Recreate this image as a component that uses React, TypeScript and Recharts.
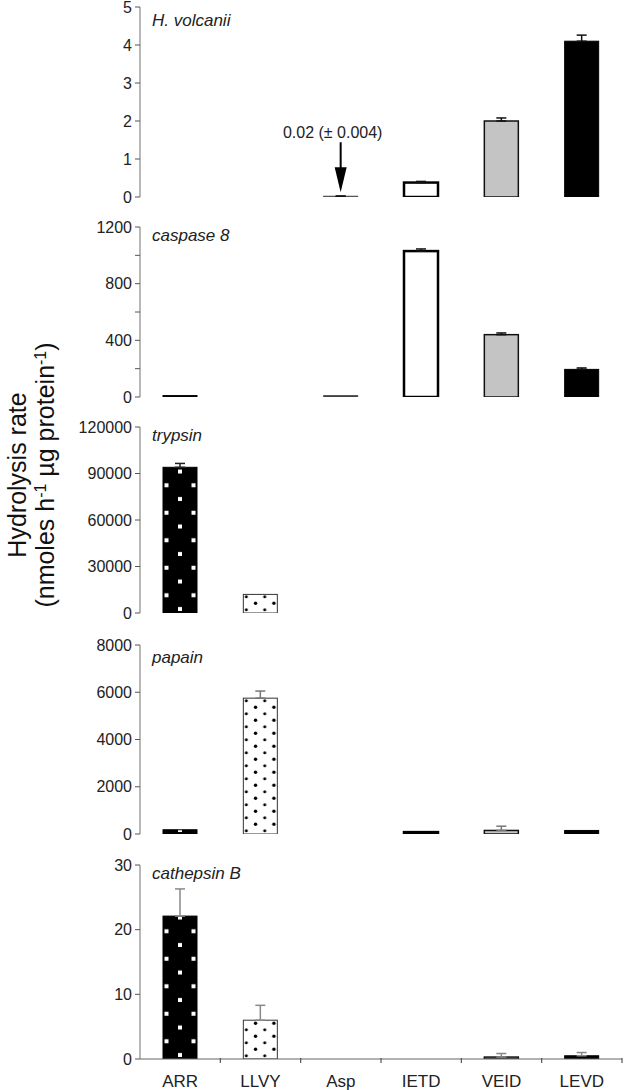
import React from "react";
import { BarChart, Bar, XAxis, YAxis, ErrorBar, LabelList } from "recharts";

const substrates = ["ARR", "LLVY", "Asp", "IETD", "VEID", "LEVD"];

const volcaniiRate = [0, 0, 0.02, 0.38, 2.0, 4.1];
const volcaniiErr = [0, 0, 0.004, 0.03, 0.08, 0.16];
const volcaniiNote = ["", "", "0.02 (± 0.004)", "", "", ""];
const volcaniiTicks = [0, 1, 2, 3, 4, 5];

const caspaseRate = [10, 0, 10, 1030, 440, 195];
const caspaseErr = [0, 0, 0, 15, 12, 10];
const caspaseTicks = [0, 200, 400, 600, 800, 1000, 1200];

const trypsinRate = [94000, 12000, 0, 0, 0, 0];
const trypsinErr = [2500, 0, 0, 0, 0, 0];
const trypsinTicks = [0, 30000, 60000, 90000, 120000];

const papainRate = [180, 5750, 0, 80, 150, 150];
const papainErr = [0, 300, 0, 0, 180, 0];
const papainTicks = [0, 2000, 4000, 6000, 8000];

const cathepsinRate = [22.1, 6.0, 0, 0, 0.3, 0.5];
const cathepsinErr = [4.2, 2.3, 0, 0, 0.55, 0.5];
const cathepsinTicks = [0, 10, 20, 30];

const FONT = "'Liberation Sans', Arial, Helvetica, sans-serif";
const AXIS_LEFT = 140;
const AXIS_RIGHT = 622;
const CAT_MARGIN = 14;

// fill per substrate, same in every panel
const barStyles = [
  { fill: "#000", pattern: "squares", stroke: "#000", strokeWidth: 1 },
  { fill: "#fff", pattern: "dots", stroke: "#333", strokeWidth: 1 },
  { fill: "#222", pattern: "", stroke: "#555", strokeWidth: 1 },
  { fill: "#fff", pattern: "", stroke: "#000", strokeWidth: 2.5 },
  { fill: "#c4c4c4", pattern: "", stroke: "#111", strokeWidth: 1.5 },
  { fill: "#000", pattern: "", stroke: "#000", strokeWidth: 1 },
];

const panels = [
  { id: "hv", title: "H. volcanii", rates: volcaniiRate, errs: volcaniiErr, notes: volcaniiNote, ticks: volcaniiTicks, labelStep: 1 },
  { id: "c8", title: "caspase 8", rates: caspaseRate, errs: caspaseErr, notes: null, ticks: caspaseTicks, labelStep: 400 },
  { id: "tr", title: "trypsin", rates: trypsinRate, errs: trypsinErr, notes: null, ticks: trypsinTicks, labelStep: 30000 },
  { id: "pa", title: "papain", rates: papainRate, errs: papainErr, notes: null, ticks: papainTicks, labelStep: 2000 },
  { id: "cb", title: "cathepsin B", rates: cathepsinRate, errs: cathepsinErr, notes: null, ticks: cathepsinTicks, labelStep: 10 },
];

const layout = [
  { top: 7, bottom: 197, titleY: 11, errColor: "#111" },
  { top: 227, bottom: 397, titleY: 226, errColor: "#111" },
  { top: 427, bottom: 613, titleY: 426, errColor: "#222" },
  { top: 645, bottom: 834, titleY: 648, errColor: "#777" },
  { top: 865, bottom: 1059, titleY: 864, errColor: "#888" },
];

function StyledBar(props: any) {
  const { x, y, width, height, payload, chartId } = props;
  if (height == null || height <= 0 || !payload) return <g />;
  const k = substrates.indexOf(payload.name);
  const s = barStyles[k];
  const pid = `pat-${chartId}-${k}`;
  const base = y + height;
  let defs = null;
  let fill = s.fill;
  if (s.pattern === "squares") {
    const th = 27.5;
    fill = `url(#${pid})`;
    defs = (
      <pattern id={pid} patternUnits="userSpaceOnUse" x={x} y={base} width={width} height={th}>
        <rect width={width} height={th} fill="#000" />
        <rect x={width / 2 - 2} y={th - 6} width={4} height={4} fill="#fff" />
        <rect x={1.5} y={th / 2 - 6} width={4} height={4} fill="#fff" />
        <rect x={width - 5.5} y={th / 2 - 6} width={4} height={4} fill="#fff" />
      </pattern>
    );
  } else if (s.pattern === "dots") {
    const tw = 18.4;
    const th = 13;
    fill = `url(#${pid})`;
    defs = (
      <pattern id={pid} patternUnits="userSpaceOnUse" x={x} y={base} width={tw} height={th}>
        <rect width={tw} height={th} fill="#fff" />
        <circle cx={3} cy={th - 3.2} r={1.5} fill="#000" />
        <circle cx={12.2} cy={th - 9.7} r={1.7} fill="#000" />
      </pattern>
    );
  }
  return (
    <g>
      {defs && <defs>{defs}</defs>}
      <rect x={x} y={y} width={width} height={Math.max(height, 0.8)} fill={fill} stroke={s.stroke} strokeWidth={s.strokeWidth} />
    </g>
  );
}

// category label plus a small tick at the right edge of each category band
function CategoryTick(props: any) {
  const { x, y, payload, showLabel } = props;
  const half = (AXIS_RIGHT - AXIS_LEFT) / substrates.length / 2;
  const axisY = y - CAT_MARGIN;
  return (
    <g>
      <line x1={x + half} y1={axisY - 1} x2={x + half} y2={axisY + 4} stroke="#555" strokeWidth={1.2} />
      {showLabel && (
        <text x={x} y={axisY + 28} textAnchor="middle" fontSize={17} fontFamily={FONT} fill="#222">
          {payload.value}
        </text>
      )}
    </g>
  );
}

function ArrowNote(props: any) {
  const { x, y, width, value } = props;
  if (!value) return null;
  const cx = x + width / 2;
  return (
    <g>
      <text x={cx - 8} y={y - 58} textAnchor="middle" fontSize={16} fontFamily={FONT} fill="#222">
        {value}
      </text>
      <line x1={cx} y1={y - 54} x2={cx} y2={y - 26} stroke="#000" strokeWidth={2} />
      <polygon points={`${cx - 6},${y - 29} ${cx + 6},${y - 29} ${cx},${y - 4}`} fill="#000" />
    </g>
  );
}

function Panel({ index }: { index: number }) {
  const p = panels[index];
  const l = layout[index];
  const last = index === panels.length - 1;
  const padTop = 12;
  const xHeight = last ? 32 : 0;
  const padBottom = last ? 0 : 10;
  const h = l.bottom - l.top + padTop + xHeight + padBottom;
  const data = substrates.map((name, i) => ({
    name,
    rate: p.rates[i],
    err: p.errs[i] > 0 ? [0, p.errs[i]] : undefined,
    note: p.notes ? p.notes[i] : "",
  }));
  const max = p.ticks[p.ticks.length - 1];
  return (
    <div style={{ position: "absolute", left: 0, top: l.top - padTop, width: 634, height: h }}>
      <BarChart
        width={634}
        height={h}
        data={data}
        barSize={34}
        margin={{ top: padTop, right: 634 - AXIS_RIGHT, bottom: padBottom, left: 0 }}
      >
        <XAxis
          dataKey="name"
          height={xHeight}
          tick={(tp: any) => <CategoryTick {...tp} showLabel={last} />}
          tickLine={false}
          tickSize={0}
          tickMargin={CAT_MARGIN}
          axisLine={{ stroke: "#666", strokeWidth: 1.2 }}
          interval={0}
        />
        <YAxis
          width={AXIS_LEFT}
          domain={[0, max]}
          ticks={p.ticks}
          interval={0}
          allowDataOverflow
          tickSize={5}
          tickMargin={3}
          tickLine={{ stroke: "#555" }}
          axisLine={{ stroke: "#888", strokeWidth: 1.2 }}
          tick={{ fill: "#222", fontSize: 16, fontFamily: FONT }}
          tickFormatter={(v: number) => (v % p.labelStep === 0 ? String(v) : "")}
        />
        <Bar dataKey="rate" isAnimationActive={false} shape={(bp: any) => <StyledBar {...bp} chartId={p.id} />}>
          <ErrorBar dataKey="err" width={5} stroke={l.errColor} strokeWidth={1.5} direction="y" />
          {p.notes && <LabelList dataKey="note" content={(lp: any) => <ArrowNote {...lp} />} />}
        </Bar>
      </BarChart>
      <div
        style={{
          position: "absolute",
          left: AXIS_LEFT + 12,
          top: l.titleY - (l.top - padTop),
          fontFamily: FONT,
          fontStyle: "italic",
          fontSize: 17,
          color: "#222",
          whiteSpace: "nowrap",
        }}
      >
        {p.title}
      </div>
    </div>
  );
}

function AxisTitle() {
  const cy = 475;
  return (
    <svg width={70} height={1090} style={{ position: "absolute", left: 0, top: 0 }}>
      <text transform={`translate(26 ${cy}) rotate(-90)`} textAnchor="middle" fontSize={25} fontFamily={FONT} fill="#111">
        Hydrolysis rate
      </text>
      <text transform={`translate(54 ${cy}) rotate(-90)`} textAnchor="middle" fontSize={25} fontFamily={FONT} fill="#111">
        (nmoles h
        <tspan fontSize={16} baselineShift="super">-1</tspan>
        {" µg protein"}
        <tspan fontSize={16} baselineShift="super">-1</tspan>
        )
      </text>
    </svg>
  );
}

export default function App() {
  return (
    <div style={{ position: "absolute", left: 0, top: 0, width: 634, height: 1090, background: "#fff" }}>
      <AxisTitle />
      {panels.map((_, i) => (
        <Panel key={i} index={i} />
      ))}
    </div>
  );
}
